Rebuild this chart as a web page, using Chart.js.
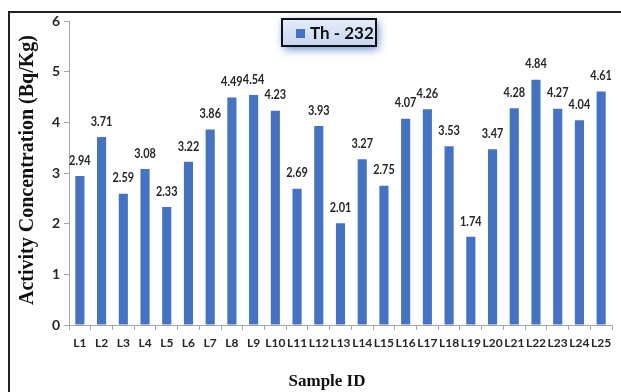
<!DOCTYPE html>
<html lang="en">

<head>
    <meta charset="UTF-8">
    <title>Th - 232</title>
    <script src="https://cdn.jsdelivr.net/npm/chart.js"></script>
    <style>
        html, body { margin: 0; padding: 0; background: #fff; }
        #wrap { width: 621px; height: 392px; position: relative; }
    </style>
</head>

<body>
    <div id="wrap">
        <canvas id="thChart" width="621" height="392"></canvas>
    </div>

    <script>
        // Amostras e concentrações de Th-232
        const samples = ['L1', 'L2', 'L3', 'L4', 'L5', 'L6', 'L7', 'L8', 'L9', 'L10', 'L11', 'L12', 'L13',
            'L14', 'L15', 'L16', 'L17', 'L18', 'L19', 'L20', 'L21', 'L22', 'L23', 'L24', 'L25'];
        const thValues = [2.94, 3.71, 2.59, 3.08, 2.33, 3.22, 3.86, 4.49, 4.54, 4.23, 2.69, 3.93, 2.01,
            3.27, 2.75, 4.07, 4.26, 3.53, 1.74, 3.47, 4.28, 4.84, 4.27, 4.04, 4.61];
        const seriesName = 'Th - 232';
        const yTicks = [0, 1, 2, 3, 4, 5, 6];

        const barColor = '#4472C4';
        const labelFont = 'bold 13px Lato, "DejaVu Sans", sans-serif';
        const titleFont = 'bold 17px "Liberation Serif", serif';

        // Moldura, rótulos dos valores, títulos e legenda
        const decor = {
            id: 'decor',
            beforeDraw(chart) {
                const ctx = chart.ctx;
                ctx.save();
                ctx.strokeStyle = '#222';
                ctx.lineWidth = 2;
                ctx.beginPath();
                ctx.moveTo(9, 392);
                ctx.lineTo(9, 12);
                ctx.lineTo(621, 12);
                ctx.stroke();
                ctx.restore();
            },
            afterDatasetsDraw(chart) {
                const ctx = chart.ctx;
                const meta = chart.getDatasetMeta(0);
                ctx.font = labelFont;
                ctx.fillStyle = '#262626';
                ctx.textAlign = 'center';
                ctx.textBaseline = 'bottom';
                meta.data.forEach((bar, i) => {
                    // fonte um pouco condensada
                    ctx.save();
                    ctx.translate(bar.x, bar.y - 9);
                    ctx.scale(0.84, 1);
                    ctx.fillText(thValues[i].toFixed(2), 0, 0);
                    ctx.restore();
                });
            },
            afterDraw(chart) {
                const ctx = chart.ctx;
                ctx.save();
                // títulos dos eixos
                ctx.fillStyle = '#111';
                ctx.textAlign = 'center';
                ctx.textBaseline = 'middle';
                ctx.font = titleFont;
                ctx.fillText('Sample ID', 327, 382);
                ctx.translate(28, 170);
                ctx.rotate(-Math.PI / 2);
                ctx.font = 'bold 20px "Liberation Serif", serif';
                ctx.fillText('Activity Concentration (Bq/Kg)', 0, 0);
                ctx.restore();

                // legenda
                const x = 282, y = 19, w = 94, h = 27;
                ctx.save();
                ctx.shadowColor = 'rgba(68, 114, 196, 0.85)';
                ctx.shadowBlur = 10;
                ctx.shadowOffsetX = 2;
                ctx.shadowOffsetY = 3;
                const g = ctx.createLinearGradient(0, y, 0, y + h);
                g.addColorStop(0, '#e4ebf8');
                g.addColorStop(1, '#c9d7f0');
                ctx.fillStyle = g;
                ctx.fillRect(x, y, w, h);
                ctx.shadowColor = 'transparent';
                ctx.strokeStyle = '#111';
                ctx.lineWidth = 2;
                ctx.strokeRect(x, y, w, h);
                ctx.fillStyle = barColor;
                ctx.fillRect(x + 14, y + 10, 9, 9);
                ctx.fillStyle = '#111';
                ctx.font = 'bold 17px Lato, "DejaVu Sans", sans-serif';
                ctx.textAlign = 'left';
                ctx.textBaseline = 'middle';
                ctx.fillText(chart.data.datasets[0].label, x + 28, y + h / 2 + 1);
                ctx.restore();
            }
        };

        const ctx = document.getElementById('thChart').getContext('2d');
        new Chart(ctx, {
            type: 'bar',
            data: {
                labels: samples,
                datasets: [{
                    label: seriesName,
                    data: thValues,
                    backgroundColor: barColor,
                    borderWidth: 0,
                    barPercentage: 0.84,
                    categoryPercentage: 0.5
                }]
            },
            options: {
                responsive: false,
                animation: false,
                devicePixelRatio: 1,
                layout: { padding: { left: 10, right: 9, top: 21, bottom: 2 } },
                plugins: {
                    legend: { display: false },
                    tooltip: { enabled: false }
                },
                scales: {
                    y: {
                        min: 0,
                        max: 6,
                        afterBuildTicks(axis) {
                            axis.ticks = yTicks.map(v => ({ value: v }));
                        },
                        afterFit(axis) { axis.width = 59; },
                        grid: {
                            drawOnChartArea: false,
                            color: '#a6a6a6',
                            tickLength: 5
                        },
                        border: { color: '#a6a6a6' },
                        ticks: {
                            color: '#262626',
                            padding: 4,
                            font: { family: 'Lato', size: 14, weight: 'bold' }
                        }
                    },
                    x: {
                        afterFit(axis) { axis.height = 65; },
                        grid: {
                            drawOnChartArea: false,
                            color: '#a6a6a6',
                            tickLength: 5
                        },
                        border: { color: '#a6a6a6' },
                        ticks: {
                            color: '#262626',
                            padding: 6,
                            maxRotation: 0,
                            autoSkip: false,
                            font: { family: 'Lato', size: 12, weight: 'bold' }
                        }
                    }
                }
            },
            plugins: [decor]
        });
    </script>
</body>

</html>
